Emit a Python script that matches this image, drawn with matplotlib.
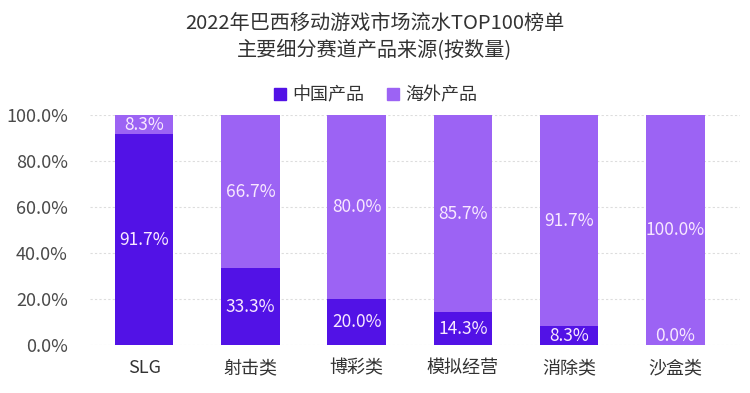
import numpy as np
import matplotlib
matplotlib.use('Agg')
import matplotlib.pyplot as plt
from matplotlib.lines import Line2D

plt.rcParams['font.family'] = ['Noto Sans CJK SC', 'DejaVu Sans']

## Data
categories = ['SLG', '射击类', '博彩类', '模拟经营', '消除类', '沙盒类']
china = [91.7, 33.3, 20.0, 14.3, 8.3, 0.0]
overseas = [8.3, 66.7, 80.0, 85.7, 91.7, 100.0]
series_names = ['中国产品', '海外产品']
yticks = [0, 20, 40, 60, 80, 100]

c_china = '#5212E6'
c_over = '#9C63F4'
c_text = '#F8E8FF'

fig = plt.figure(figsize=(7.5, 3.93), dpi=100)
ax = fig.add_axes([0.12, 0.122, 0.867, 0.585])

x = np.arange(len(categories))
w = 0.55
ax.bar(x, china, w, color=c_china, zorder=2)
ax.bar(x, overseas, w, bottom=china, color=c_over, zorder=2)


def label_pos(bottom, h):
    '''Center of a segment, with a floor for very thin ones.'''
    if h < 8:
        return bottom + 4
    return bottom + h / 2


for i in range(len(categories)):
    ax.text(x[i], label_pos(0, china[i]), '%.1f%%' % china[i],
            ha='center', va='center', color=c_text, fontsize=12.5, zorder=3)
    ax.text(x[i], label_pos(china[i], overseas[i]), '%.1f%%' % overseas[i],
            ha='center', va='center', color=c_text, fontsize=12.5, zorder=3)

ax.set_xlim(-0.51, 5.61)
ax.set_ylim(0, 100)
ax.set_yticks(yticks)
ax.set_yticklabels(['%.1f%%' % v for v in yticks], fontsize=13, color='#4A4A4A')
ax.set_xticks(x)
ax.set_xticklabels(categories, fontsize=13, color='#333333')
ax.tick_params(length=0)
ax.tick_params(axis='x', pad=10)
ax.tick_params(axis='y', pad=16)
for s in ax.spines.values():
    s.set_visible(False)
ax.grid(axis='y', color='#DDDDDD', linestyle=(0, (2, 2)), linewidth=0.8, zorder=0)

## Title
fig.text(0.5, 0.94, '2022年巴西移动游戏市场流水TOP100榜单', ha='center', va='center',
         fontsize=14.5, color='#333333')
fig.text(0.5, 0.87, '主要细分赛道产品来源(按数量)', ha='center', va='center',
         fontsize=14.5, color='#333333')

## Legend
handles = [Line2D([], [], marker='s', linestyle='none', markersize=9, color=c)
           for c in (c_china, c_over)]
fig.legend(handles, series_names, loc='center', bbox_to_anchor=(0.5, 0.758), ncol=2,
           frameon=False, fontsize=13, handlelength=0.8, handletextpad=0.3,
           columnspacing=1.2, labelcolor='#333333')

fig.savefig('out.png', dpi=100)
